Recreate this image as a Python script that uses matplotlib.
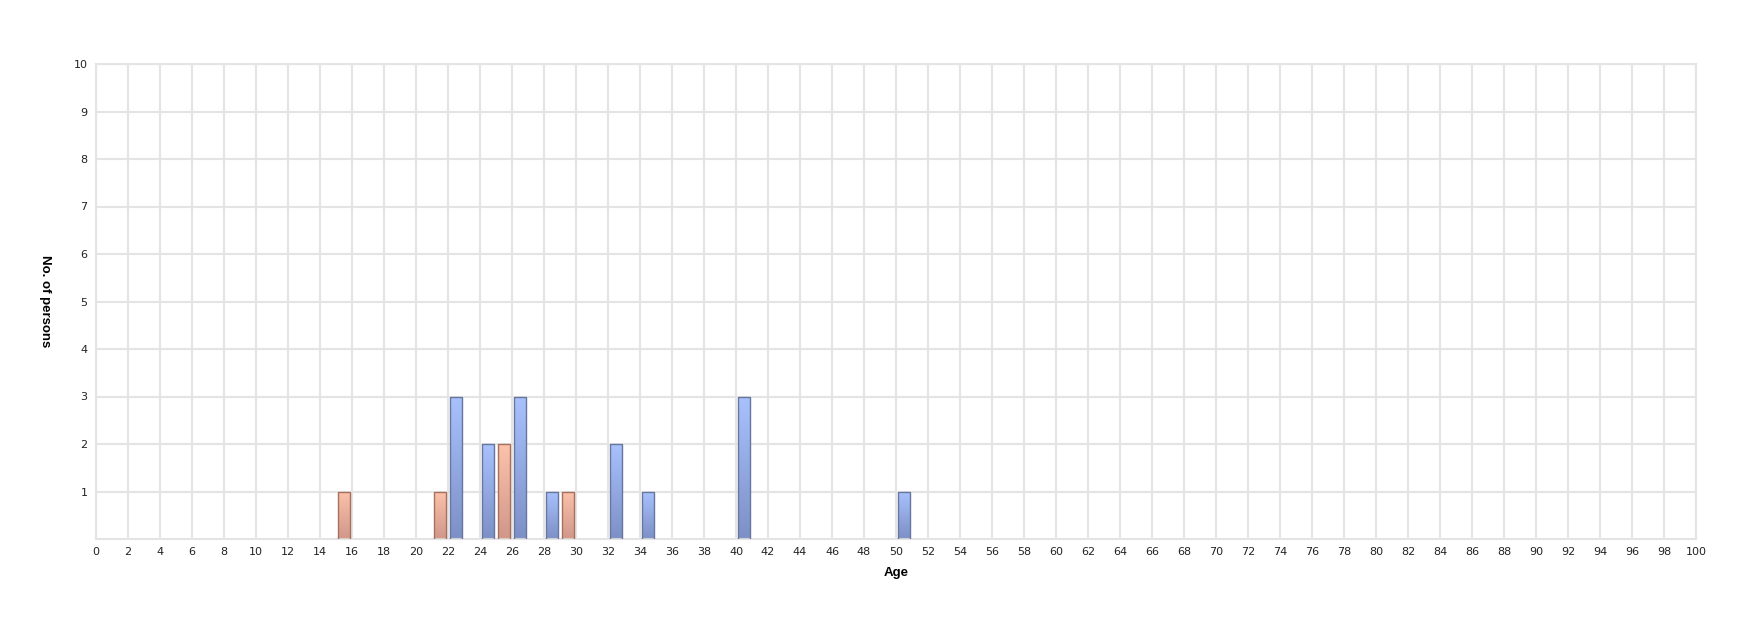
import numpy as np
import matplotlib
matplotlib.use("Agg")
import matplotlib.pyplot as plt
from matplotlib.colors import LinearSegmentedColormap

# Age distribution (counts per age)
female_ages = [15, 21, 25, 29]
female_counts = [1, 1, 2, 1]
male_ages = [22, 24, 26, 28, 32, 34, 40, 50]
male_counts = [3, 2, 3, 1, 2, 1, 3, 1]

x_ticks = list(range(0, 101, 2))
y_ticks = list(range(1, 11))

plt.rcParams['font.family'] = ['DejaVu Sans']

fig = plt.figure(figsize=(17.6, 6.28), dpi=100)
ax = fig.add_axes([96 / 1760, 1 - 539 / 628, 1600 / 1760, 475 / 628])

grid_col = "#e4e4e4"
ax.set_xlim(0, 100)
ax.set_ylim(0, 10)
ax.set_xticks(x_ticks)
ax.set_yticks(y_ticks)
ax.grid(True, color=grid_col, linewidth=1.5)
ax.set_axisbelow(True)
for s in ax.spines.values():
    s.set_color(grid_col)
    s.set_linewidth(1.5)
ax.tick_params(length=0, labelsize=8, colors="#222222", pad=6)

grad = np.linspace(1, 0, 256).reshape(-1, 1)


def gradient_bars(ages, counts, top, bottom, edge):
    cmap = LinearSegmentedColormap.from_list("g", [bottom, top])
    bars = ax.bar(np.array(ages) + 0.5, counts, width=0.78, color="none",
                  edgecolor=edge, linewidth=1.0, zorder=3)
    for b in bars:
        x0, y0 = b.get_x(), b.get_y()
        im = ax.imshow(grad, cmap=cmap, aspect="auto", origin="upper",
                       extent=(x0, x0 + b.get_width(), y0, y0 + b.get_height()),
                       zorder=2, interpolation="bicubic")
        im.set_clip_path(b)
    return bars


gradient_bars(female_ages, female_counts, "#fdc2aa", "#d0978a", "#a8705f")
gradient_bars(male_ages, male_counts, "#a9c1fd", "#7d90c6", "#66779f")

ax.set_xlim(0, 100)
ax.set_ylim(0, 10)

lab_font = ['Liberation Sans', 'DejaVu Sans']
ax.set_xlabel("Age", fontsize=9.5, fontweight="bold", labelpad=7, family=lab_font)
ax.set_ylabel("No. of persons", fontsize=9.5, fontweight="bold", rotation=270,
              ha="center", va="center", family=lab_font)
ax.yaxis.set_label_coords((45 - 96) / 1600, 0.5)

fig.savefig("out.png", dpi=100)
